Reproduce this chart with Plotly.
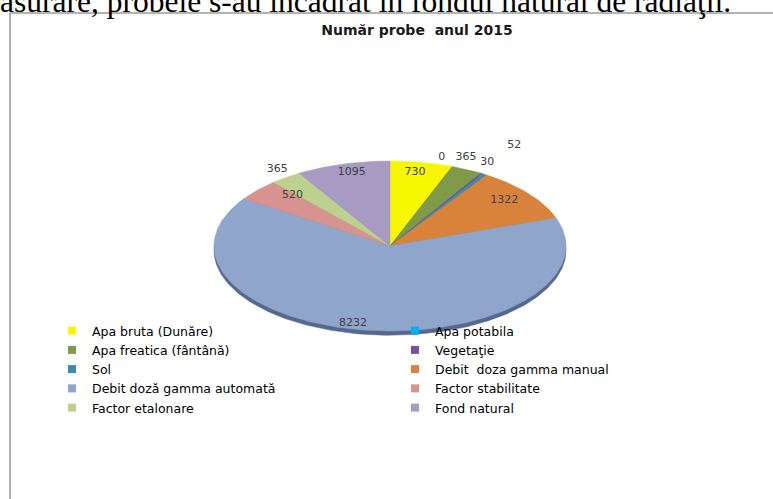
import numpy as np
import plotly.graph_objects as go

# ---------------- data ----------------
categories = [
    "Apa bruta (Dunăre)",
    "Apa potabila",
    "Apa freatica (fântână)",
    "Vegetaţie",
    "Sol",
    "Debit  doza gamma manual",
    "Debit doză gamma automată",
    "Factor stabilitate",
    "Factor etalonare",
    "Fond natural",
]
values = [730, 0, 365, 30, 52, 1322, 8232, 520, 365, 1095]

title_text = "Număr probe  anul 2015"
doc_text = "asurare, probele s-au încadrat în fondul natural de radiaţii."

# ---------------- styles ----------------
colors = ["#f7f700", "#00b0f0", "#7f9a48", "#7a4fa0", "#3a8fa6",
          "#d9823b", "#8fa5cb", "#d6938f", "#bcd08f", "#a79bc3"]
label_radius = [0.88, 1.09, 1.13, 1.13, 1.38, 0.84, 0.93, 0.81, 1.11, 0.89]
label_shift_deg = [-1.0, -5.0, -3.4, -2.2, -1.8, -1.4, 5.7, 5.6, 0.9, 1.4]
rim_color = "#56688c"

W, H = 773, 499
cx, cy = 390, 246          # pie centre (px)
ax_px, by_px = 176, 85     # semi axes (px)
xr, yr = 1.1, 1.25         # axis half-ranges in unit coords

fig = go.Figure()

# 3D rim under the pie
th_full = np.linspace(0, 2 * np.pi, 361)
fig.add_trace(go.Scatter(
    x=np.sin(th_full), y=np.cos(th_full) - 0.05,
    mode="lines", fill="toself", fillcolor=rim_color,
    line=dict(color=rim_color, width=0.5),
    showlegend=False, hoverinfo="skip"))

total = float(sum(values))
fracs = np.concatenate([[0.0], np.cumsum(values) / total])

for i, (cat, v) in enumerate(zip(categories, values)):
    if v <= 0:
        continue
    t0, t1 = 2 * np.pi * fracs[i], 2 * np.pi * fracs[i + 1]
    n = max(3, int(360 * (t1 - t0) / (2 * np.pi)) + 3)
    th = np.linspace(t0, t1, n)
    xs = np.concatenate([[0.0], np.sin(th), [0.0]])
    ys = np.concatenate([[0.0], np.cos(th), [0.0]])
    fig.add_trace(go.Scatter(
        x=xs, y=ys, mode="lines", fill="toself",
        fillcolor=colors[i], line=dict(color=colors[i], width=0.5),
        name=cat, legendgroup=cat, showlegend=False,
        hovertemplate=f"{cat}: {v}<extra></extra>"))

# data labels
mids = np.pi * (fracs[:-1] + fracs[1:]) + np.radians(label_shift_deg)
lx = np.array(label_radius) * np.sin(mids)
ly = np.array(label_radius) * np.cos(mids)
fig.add_trace(go.Scatter(
    x=lx, y=ly, mode="text", text=[str(v) for v in values],
    textposition="middle center",
    textfont=dict(family="DejaVu Sans", size=11, color="#404040"),
    cliponaxis=False, showlegend=False, hoverinfo="skip"))

# legend entries (square swatches)
for cat, col in zip(categories, colors):
    fig.add_trace(go.Scatter(
        x=[None], y=[None], mode="markers", name=cat, legendgroup=cat,
        marker=dict(symbol="square", size=8, color=col)))

fig.update_layout(
    width=W, height=H, autosize=False,
    margin=dict(l=0, r=0, t=0, b=0),
    paper_bgcolor="white", plot_bgcolor="white",
    title=dict(text=f"<b>{title_text}</b>", x=417 / W, xref="paper",
               y=1 - 30 / H, yref="container", xanchor="center", yanchor="middle",
               font=dict(family="DejaVu Sans", size=14, color="#1a1a1a")),
    xaxis=dict(domain=[(cx - xr * ax_px) / W, (cx + xr * ax_px) / W],
               range=[-xr, xr], visible=False, fixedrange=True),
    yaxis=dict(domain=[(H - (cy + yr * by_px)) / H, (H - (cy - yr * by_px)) / H],
               range=[-yr, yr], visible=False, fixedrange=True),
    showlegend=True,
    legend=dict(orientation="h", x=52 / W, xanchor="left",
                y=1 - 316 / H, yanchor="top",
                entrywidth=298, entrywidthmode="pixels",
                traceorder="normal", bgcolor="rgba(0,0,0,0)",
                font=dict(family="DejaVu Sans", size=12.5, color="#000000"),
                itemclick=False, itemdoubleclick=False),
    annotations=[dict(text=doc_text, x=0, y=1, xref="paper", yref="paper",
                      xanchor="left", yanchor="middle", showarrow=False,
                      xshift=-2, yshift=-1,
                      font=dict(family="Liberation Serif", size=31.5, color="#000000"))],
    shapes=[
        dict(type="line", xref="paper", yref="paper",
             x0=10 / W, x1=1, y0=1 - 13 / H, y1=1 - 13 / H,
             line=dict(color="#9a9a9a", width=1.5)),
        dict(type="line", xref="paper", yref="paper",
             x0=10 / W, x1=10 / W, y0=1 - 13 / H, y1=0,
             line=dict(color="#9a9a9a", width=1.5)),
    ],
)

fig.write_html("out.html", config={"displayModeBar": False},
               post_script="document.body.style.margin='0';document.body.style.overflow='hidden';")
